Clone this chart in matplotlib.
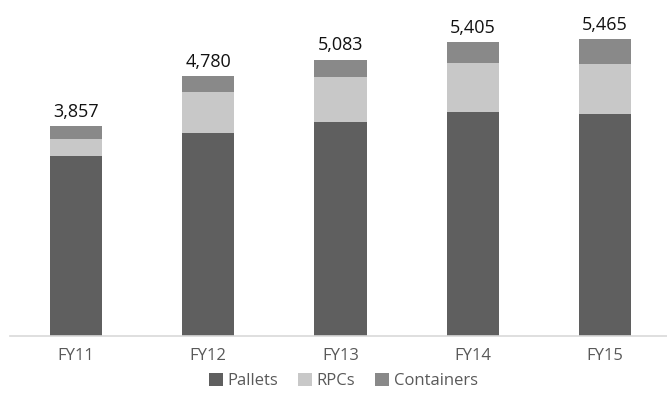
import matplotlib.pyplot as plt
import numpy as np

plt.rcParams['font.family'] = ['Open Sans', 'DejaVu Sans']

years = ['FY11', 'FY12', 'FY13', 'FY14', 'FY15']
totals = [3857, 4780, 5083, 5405, 5465]
pallets = [3314, 3737, 3940, 4124, 4087]
rpcs = [307, 760, 823, 902, 920]
containers = [t - p - r for t, p, r in zip(totals, pallets, rpcs)]

c_pal = '#5f5f5f'
c_rpc = '#c8c8c8'
c_con = '#898989'

fig = plt.figure(figsize=(6.67, 3.98), dpi=100)
ax = fig.add_axes([10/667, 1 - 336/398, 661/667, (336 - 10)/398])

x = np.arange(len(years))
w = 0.395
ax.bar(x, pallets, w, color=c_pal, label='Pallets')
ax.bar(x, rpcs, w, bottom=pallets, color=c_rpc, label='RPCs')
bottom2 = [p + r for p, r in zip(pallets, rpcs)]
ax.bar(x, containers, w, bottom=bottom2, color=c_con, label='Containers')

# totals above each stack
for xi, t in zip(x, totals):
    ax.annotate(f'{t:,}', (xi, t), xytext=(0, 4), textcoords='offset points',
                ha='center', va='bottom', fontsize=13, color='#111111')

ax.set_xlim(-0.5, 4.5)
ax.set_ylim(0, 18.41 * 326)
ax.set_yticks([])
for s in ['top', 'right', 'left']:
    ax.spines[s].set_visible(False)
ax.spines['bottom'].set_color('#d9d9d9')
ax.spines['bottom'].set_linewidth(1.2)
ax.set_xticks(x)
ax.set_xticklabels(years, fontsize=12, color='#595959')
ax.tick_params(axis='x', length=0, pad=9)

fig.legend(loc='lower center', bbox_to_anchor=(0.515, -0.015), ncol=3, frameon=False,
           fontsize=12, labelcolor='#595959', handlelength=0.8, handleheight=0.8,
           handletextpad=0.3, columnspacing=1.2)

fig.savefig('out.png', dpi=100)
